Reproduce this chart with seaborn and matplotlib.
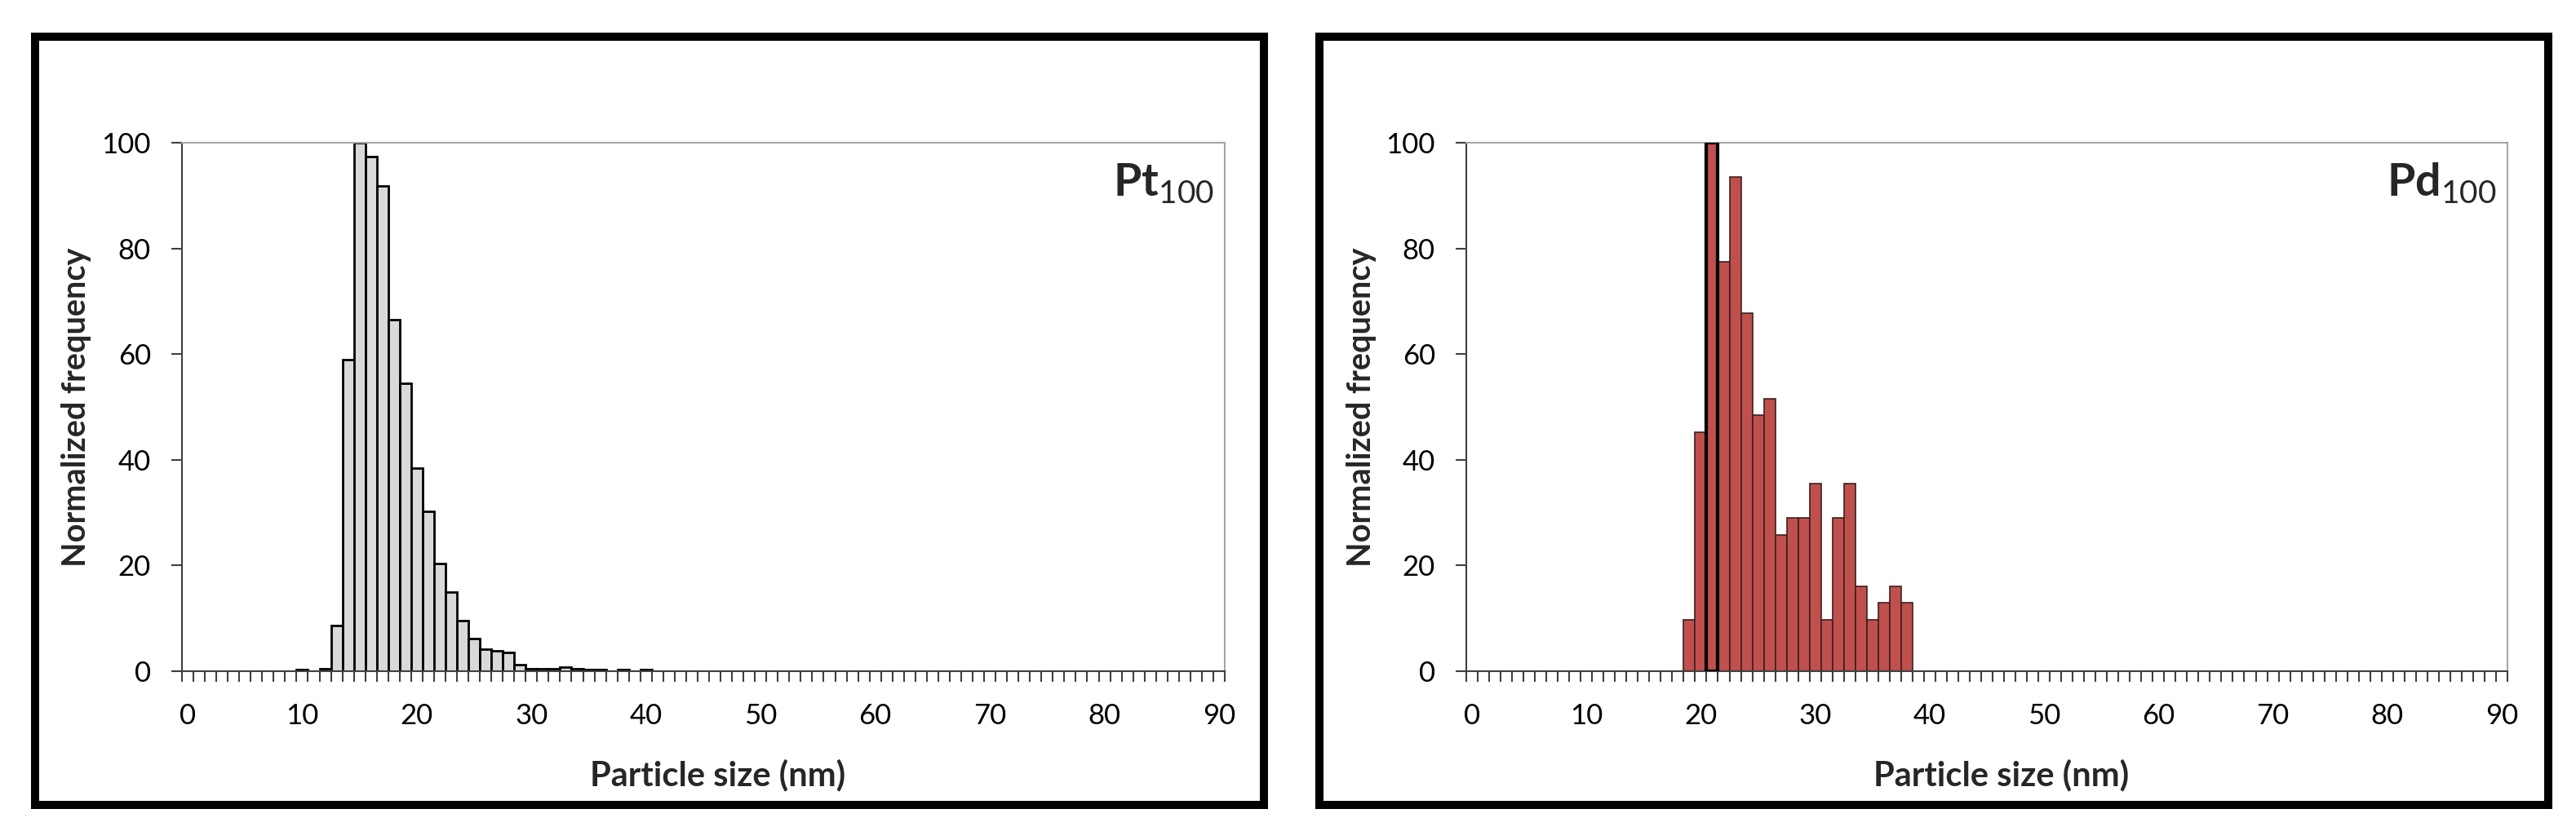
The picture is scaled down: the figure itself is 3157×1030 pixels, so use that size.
import numpy as np
import matplotlib
matplotlib.use("Agg")
import matplotlib.pyplot as plt
import seaborn as sns
from matplotlib.patches import Rectangle
from matplotlib.ticker import FixedLocator

# particle size (nm) -> normalized frequency
pt_size = [10, 12, 13, 14, 15, 16, 17, 18, 19, 20, 21, 22, 23, 24, 25, 26, 27, 28, 29,
           30, 31, 32, 33, 34, 35, 36, 38, 40]
pt_freq = [0.3, 0.5, 8.6, 59.0, 100, 97.3, 91.8, 66.5, 54.5, 38.5, 30.2, 20.4, 14.9, 9.6,
           6.1, 4.1, 3.8, 3.5, 1.2, 0.5, 0.5, 0.5, 0.8, 0.5, 0.3, 0.3, 0.3, 0.3]

pd_size = [19, 20, 21, 22, 23, 24, 25, 26, 27, 28, 29, 30, 31, 32, 33, 34, 35, 36, 37, 38]
pd_freq = [9.7, 45.2, 100, 77.4, 93.5, 67.7, 48.4, 51.6, 25.8, 29.0, 29.0, 35.5, 9.7, 29.0,
           35.5, 16.1, 9.7, 12.9, 16.1, 12.9]

x_ticks = list(range(0, 91, 10))
y_ticks = list(range(0, 101, 20))

sns.set_style("white")
plt.rcParams["font.family"] = ["Lato", "DejaVu Sans"]
plt.rcParams["mathtext.fontset"] = "custom"
plt.rcParams["mathtext.rm"] = "Lato"
plt.rcParams["mathtext.bf"] = "Lato:bold"

W, H = 3157, 1030
fig = plt.figure(figsize=(W / 100, H / 100), dpi=100)


def panel(rect, sizes, freqs, fill, edge, lw, name):
    ax = fig.add_axes(rect)
    sns.histplot(x=sizes, weights=freqs, discrete=True, ax=ax, color=fill,
                 edgecolor=edge, linewidth=lw, alpha=1)
    for p in ax.patches:
        if p.get_height() == 0:
            p.set_visible(False)
    ax.set_xlim(-0.5, 90.5)
    ax.set_ylim(0, 100)
    ax.set_xticks(x_ticks)
    ax.xaxis.set_minor_locator(FixedLocator(np.arange(-0.5, 91, 1)))
    ax.set_yticks(y_ticks)
    ax.tick_params(axis="both", which="both", bottom=True, left=True, direction="out",
                   colors="#404040", labelcolor="black", labelsize=25, width=1.5)
    ax.tick_params(axis="x", which="major", length=0, pad=28)
    ax.tick_params(axis="x", which="minor", length=9.4)
    ax.tick_params(axis="y", length=9.4, pad=18)
    for s in ["left", "bottom"]:
        ax.spines[s].set_color("#404040")
        ax.spines[s].set_linewidth(1.5)
    for s in ["top", "right"]:
        ax.spines[s].set_color("#A6A6A6")
        ax.spines[s].set_linewidth(1.5)
    ax.set_xlabel("Particle size (nm)", fontsize=30, fontweight="bold")
    ax.set_ylabel("Normalized frequency", fontsize=28.5, fontweight="bold", va="center")
    ax.xaxis.set_label_coords(0.514, -0.196)
    ax.yaxis.set_label_coords(-0.101, 0.5)
    ax.xaxis.label.set_va("center")
    ax.text(0.99, 0.9, r"$\mathbf{%s}_{\mathrm{100}}$" % name, transform=ax.transAxes,
            ha="right", va="baseline", fontsize=40)
    return ax


panel([223 / W, 1 - 823 / H, 1278 / W, 648 / H], pt_size, pt_freq,
      "#D9D9D9", "black", 2.0, "Pt")
ax2 = panel([1797 / W, 1 - 823 / H, 1276 / W, 648 / H], pd_size, pd_freq,
            "#C0504D", "#3A2020", 1.2, "Pd")

# the 21 nm bar is outlined in heavy black in the reference
for p in ax2.patches:
    if abs(p.get_x() + p.get_width() / 2 - 21) < 0.1:
        p.set_edgecolor("black")
        p.set_linewidth(3.0)
        p.set_zorder(3)

# black frames around each chart
for x0, x1 in [(42.5, 1549), (1617, 3123)]:
    fig.add_artist(Rectangle((x0 / W, 1 - 987 / H), (x1 - x0) / W, 942 / H,
                             transform=fig.transFigure, fill=False,
                             edgecolor="black", linewidth=7.2))

fig.savefig("out.png", dpi=100)
